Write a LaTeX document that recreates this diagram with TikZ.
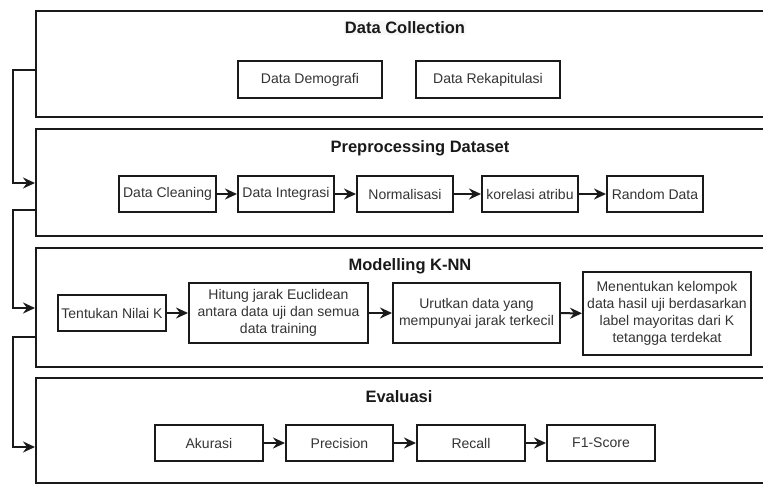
\documentclass[tikz,border=0pt]{standalone}
\usepackage{fontspec}
\setmainfont{Liberation Sans}
\usetikzlibrary{arrows.meta}
\definecolor{ln}{HTML}{1A1A1A}
\tikzset{
  bigbox/.style={draw=ln, line width=2pt, rectangle, inner sep=0pt},
  stepbox/.style={draw=ln, line width=2pt, rectangle, inner sep=0pt, align=center,
    font=\fontsize{14}{16.8}\selectfont, text=black!80},
  ttl/.style={font=\bfseries\fontsize{16.5}{19}\selectfont, inner sep=1pt, text=black!90},
  arr/.style={draw=ln, line width=2pt, -{Stealth[length=12pt,width=11pt,inset=4pt]}},
}
\begin{document}
\begin{tikzpicture}[x=1pt,y=-1pt]
\useasboundingbox (0,0) rectangle (763,485);
\clip (0,0) rectangle (763,485);
% big boxes
\node[bigbox, minimum width=739pt, minimum height=106pt] (dc) at (405.5,64) {};
\node[bigbox, minimum width=739pt, minimum height=107pt] (pp) at (405.5,182.5) {};
\node[bigbox, minimum width=739pt, minimum height=119pt] (mk) at (405.5,307.5) {};
\node[bigbox, minimum width=739pt, minimum height=105pt] (ev) at (405.5,430.5) {};
% titles
\node[ttl, fill=black!3] (t1) at (405,28) {Data Collection};
\node[ttl] (t2) at (420,148) {Preprocessing Dataset};
\node[ttl] (t3) at (410,266) {Modelling K-NN};
\node[ttl] (t4) at (399,397) {Evaluasi};
% data collection
\node[stepbox, minimum width=144pt, minimum height=37pt] (dd) at (310,79.5) {Data Demografi};
\node[stepbox, minimum width=144pt, minimum height=37pt] (dr) at (488,79.5) {Data Rekapitulasi};
% preprocessing
\node[stepbox, minimum width=97pt, minimum height=36pt] (p1) at (167.5,194) {Data Cleaning};
\node[stepbox, minimum width=96pt, minimum height=36pt] (p2) at (286,194) {Data Integrasi};
\node[stepbox, minimum width=96pt, minimum height=36pt] (p3) at (405,194) {Normalisasi};
\node[stepbox, minimum width=96pt, minimum height=36pt] (p4) at (530,194) {korelasi atribu};
\node[stepbox, minimum width=96pt, minimum height=36pt] (p5) at (655,194) {Random Data};
\draw[arr] (p1) -- (p2);
\draw[arr] (p2) -- (p3);
\draw[arr] (p3) -- (p4);
\draw[arr] (p4) -- (p5);
% modelling
\node[stepbox, minimum width=108pt, minimum height=36pt] (m1) at (112,313) {Tentukan Nilai K};
\node[stepbox, minimum width=179pt, minimum height=60pt] (m2) at (278.5,313) {Hitung jarak Euclidean\\antara data uji dan semua\\data training};
\node[stepbox, minimum width=167pt, minimum height=60pt] (m3) at (476.5,313) {Urutkan data yang\\mempunyai jarak terkecil};
\node[stepbox, minimum width=168pt, minimum height=83pt] (m4) at (667,313.5) {Menentukan kelompok\\data hasil uji berdasarkan\\label mayoritas dari K\\tetangga terdekat};
\draw[arr] (m1) -- (m2);
\draw[arr] (m2) -- (m3);
\draw[arr] (m3) -- (m4);
% evaluasi
\node[stepbox, minimum width=108pt, minimum height=36pt] (e1) at (209,443) {Akurasi};
\node[stepbox, minimum width=107pt, minimum height=36pt] (e2) at (339.5,443) {Precision};
\node[stepbox, minimum width=108pt, minimum height=36pt] (e3) at (471,443) {Recall};
\node[stepbox, minimum width=108pt, minimum height=36pt] (e4) at (601,443) {F1-Score};
\draw[arr] (e1) -- (e2);
\draw[arr] (e2) -- (e3);
\draw[arr] (e3) -- (e4);
% left connectors
\coordinate (ya) at (13,70);
\coordinate (yb) at (13,183);
\coordinate (yc) at (13,210);
\coordinate (yd) at (13,308);
\coordinate (ye) at (13,337);
\coordinate (yf) at (13,447);
\draw[arr] (dc.west |- ya) -- (ya) -- (yb) -- (pp.west |- yb);
\draw[arr] (pp.west |- yc) -- (yc) -- (yd) -- (mk.west |- yd);
\draw[arr] (mk.west |- ye) -- (ye) -- (yf) -- (ev.west |- yf);
\end{tikzpicture}
\end{document}
